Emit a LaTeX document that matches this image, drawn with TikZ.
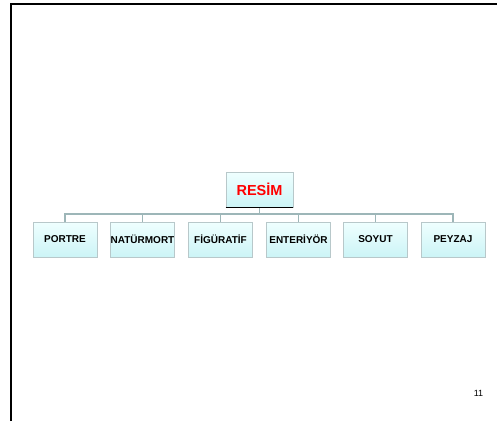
\documentclass[tikz,border=0pt]{standalone}
\usepackage{fontspec}
\setmainfont{Liberation Sans}
\definecolor{boxtop}{HTML}{EFFFFF}
\definecolor{boxbot}{HTML}{CCF4F6}
\definecolor{boxline}{HTML}{B8C8CA}
\definecolor{shade}{HTML}{6F7F80}
\definecolor{conn}{HTML}{9DB6B8}
\definecolor{titlered}{HTML}{FF0000}
\tikzset{
  orgbox/.style={draw=boxline, line width=0.6pt, top color=boxtop, bottom color=boxbot,
    minimum width=64pt, minimum height=35pt, inner sep=0pt, font=\bfseries\fontsize{10}{11}\selectfont},
  rootbox/.style={orgbox, minimum width=67pt, font=\bfseries\fontsize{14.5}{15}\selectfont, text=titlered},
  link/.style={draw=conn, line width=1.8pt}
}
\begin{document}
\begin{tikzpicture}[x=1pt,y=-1pt]
\useasboundingbox (0,0) rectangle (497,421);
\fill[white] (0,0) rectangle (497,421);
\draw[line width=2pt] (11,421) -- (11,4) -- (497,4);
\node[rootbox] (root) at (259.5,189.5) {RESİM};
\coordinate (bus) at (259.5,214);
\node[orgbox] (c1) at (65,239.5) {PORTRE};
\node[orgbox] (c2) at (142.5,239.5) {NATÜRMORT};
\node[orgbox] (c3) at (220.5,239.5) {FİGÜRATİF};
\node[orgbox] (c4) at (298.5,239.5) {ENTERİYÖR};
\node[orgbox] (c5) at (375.5,239.5) {SOYUT};
\node[orgbox] (c6) at (453,239.5) {PEYZAJ};
\draw[link] (root.south) -- (bus);
\foreach \c in {c1,c2,c3,c4,c5,c6}{
  \draw[link] (bus) -| (\c.north);
}
\draw[shade, line width=1pt] (root.south west) -- (root.south east);
\node[font=\fontsize{9}{10}\selectfont] (pg) at (478.5,393.5) {11};
\end{tikzpicture}
\end{document}
